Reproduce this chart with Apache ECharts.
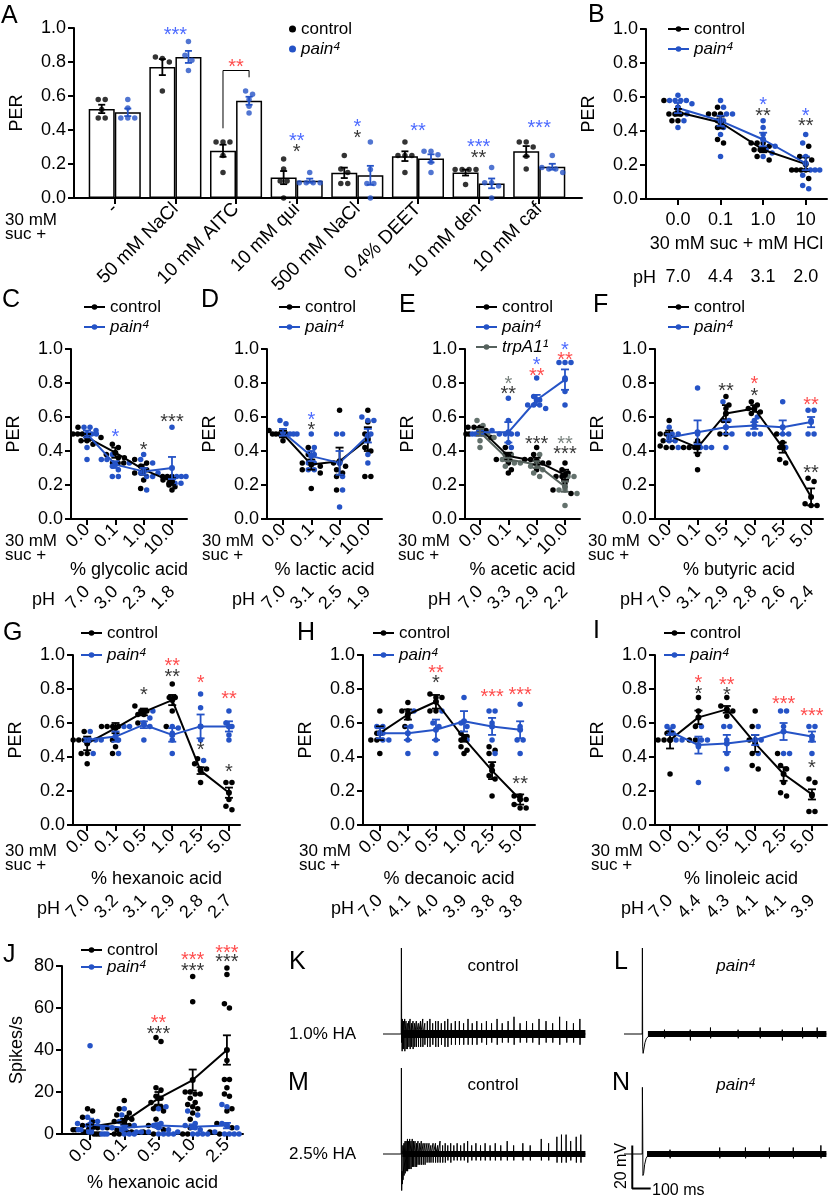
<!DOCTYPE html>
<html>
<head>
<meta charset="utf-8">
<script src="https://cdn.jsdelivr.net/npm/echarts@6/dist/echarts.min.js"></script>
<style>
  html, body { margin: 0; padding: 0; background: #fff; }
  #main { width: 835px; height: 1198px; }
</style>
</head>
<body>
<div id="main"></div>
<script>
// ---------- data ----------
// A: taste compounds (bars = mean of the dots)
var tasteLabels = ['-', '50 mM NaCl', '10 mM AITC', '10 mM qui', '500 mM NaCl', '0.4% DEET', '10 mM den', '10 mM caf']
var tasteCtrlDots = [[0.58, 0.58, 0.52, 0.47, 0.47], [0.82, 0.83, 0.80, 0.63], [0.33, 0.33, 0.33, 0.25, 0.15], [0.23, 0.17, 0.10, 0.10, 0.0],
  [0.25, 0.17, 0.15, 0.085, 0.085], [0.33, 0.25, 0.25, 0.25, 0.15], [0.167, 0.167, 0.167, 0.167, 0.08], [0.33, 0.33, 0.30, 0.245, 0.17]]
var tastePainDots = [[0.58, 0.53, 0.47, 0.47, 0.47], [0.92, 0.84, 0.81, 0.75], [0.63, 0.61, 0.58, 0.54, 0.50], [0.15, 0.09, 0.09, 0.09, 0.09],
  [0.33, 0.167, 0.085, 0.085, 0.0], [0.275, 0.275, 0.255, 0.21, 0.15], [0.18, 0.09, 0.09, 0.07, 0.0], [0.25, 0.18, 0.17, 0.17, 0.15]]
var tasteStars = [[1, 0.985, '***', 'b'], [2, 0.80, '**', 'r'], [3, 0.36, '**', 'b'], [3, 0.30, '*', 'k'], [4, 0.445, '*', 'b'], [4, 0.38, '*', 'k'],
  [5, 0.42, '**', 'b'], [6, 0.325, '***', 'b'], [6, 0.26, '**', 'k'], [7, 0.44, '***', 'b']]

// B: HCl
var hclDose = ['0.0', '0.1', '1.0', '10']
var hclPH = ['7.0', '4.4', '3.1', '2.0']
var hclCtrlMean = [0.51, 0.45, 0.29, 0.205]
var hclCtrlSem = [0.02, 0.035, 0.015, 0.04]
var hclPainMean = [0.535, 0.46, 0.35, 0.21]
var hclPainSem = [0.03, 0.03, 0.04, 0.04]
var hclCtrlDots = [[0.58, 0.54, 0.5, 0.5, 0.5, 0.46, 0.46], [0.54, 0.5, 0.5, 0.5, 0.46, 0.42, 0.33, 0.35], [0.33, 0.31, 0.29, 0.29, 0.25, 0.23, 0.33, 0.33], [0.31, 0.25, 0.23, 0.17, 0.17, 0.17, 0.12, 0.17]]
var hclPainDots = [[0.58, 0.58, 0.58, 0.58, 0.61, 0.56, 0.46, 0.42, 0.5], [0.58, 0.54, 0.5, 0.5, 0.46, 0.38, 0.42, 0.25], [0.46, 0.42, 0.38, 0.31, 0.29, 0.25, 0.27], [0.38, 0.33, 0.25, 0.17, 0.17, 0.14, 0.08, 0.06, 0.17]]
var hclStars = [[2, 0.58, '*', 'b'], [2, 0.515, '**', 'k'], [3, 0.515, '*', 'b'], [3, 0.455, '**', 'k']]

// C: glycolic acid
var glyDose = ['0.0', '0.1', '1.0', '10.0']
var glyPH = ['7.0', '3.0', '2.3', '1.8']
var glyCtrlMean = [0.48, 0.39, 0.29, 0.22]
var glyCtrlSem = [0.02, 0.03, 0.03, 0.02]
var glyPainMean = [0.50, 0.32, 0.28, 0.30]
var glyPainSem = [0.02, 0.02, 0.02, 0.065]
var glyCtrlDots = [[0.54, 0.5, 0.5, 0.5, 0.46, 0.46, 0.44, 0.48], [0.44, 0.42, 0.38, 0.36, 0.36, 0.33, 0.33, 0.33], [0.35, 0.33, 0.31, 0.29, 0.27, 0.23, 0.18], [0.25, 0.25, 0.23, 0.21, 0.2, 0.19, 0.17, 0.25]]
var glyPainDots = [[0.54, 0.54, 0.52, 0.5, 0.5, 0.5, 0.42, 0.35], [0.38, 0.35, 0.33, 0.31, 0.29, 0.25, 0.25, 0.35], [0.38, 0.35, 0.33, 0.27, 0.25, 0.25, 0.17], [0.54, 0.25, 0.25, 0.27, 0.21, 0.21, 0.25]]
var glyStars = [[1, 0.51, '*', 'b'], [2, 0.435, '*', 'k'], [3, 0.60, '***', 'k']]

// D: lactic acid
var lacDose = ['0.0', '0.1', '1.0', '10.0']
var lacPH = ['7.0', '3.1', '2.5', '1.9']
var lacCtrlMean = [0.50, 0.32, 0.34, 0.47]
var lacCtrlSem = [0.02, 0.03, 0.08, 0.07]
var lacPainMean = [0.51, 0.37, 0.33, 0.49]
var lacPainSem = [0.02, 0.03, 0.07, 0.04]
var lacCtrlDots = [[0.5, 0.5, 0.5, 0.5, 0.46, 0.5, 0.52], [0.42, 0.33, 0.31, 0.29, 0.27, 0.18, 0.38], [0.64, 0.33, 0.31, 0.29, 0.27, 0.17, 0.25], [0.64, 0.57, 0.5, 0.42, 0.4, 0.25, 0.25]]
var lacPainDots = [[0.58, 0.56, 0.5, 0.5, 0.5], [0.5, 0.42, 0.38, 0.33, 0.33, 0.29, 0.29], [0.5, 0.5, 0.33, 0.25, 0.17, 0.07], [0.6, 0.58, 0.58, 0.5, 0.46, 0.38, 0.33]]
var lacStars = [[1, 0.61, '*', 'b'], [1, 0.55, '*', 'k']]

// E: acetic acid (three genotypes)
var aceDose = ['0.0', '0.1', '1.0', '10.0']
var acePH = ['7.0', '3.3', '2.9', '2.2']
var aceCtrlMean = [0.53, 0.37, 0.34, 0.26]
var aceCtrlSem = [0.01, 0.02, 0.02, 0.03]
var acePainMean = [0.51, 0.51, 0.70, 0.82]
var acePainSem = [0.01, 0.06, 0.03, 0.06]
var aceTrpMean = [0.51, 0.35, 0.32, 0.19]
var aceTrpSem = [0.02, 0.01, 0.02, 0.03]
var aceCtrlDots = [[0.54, 0.54, 0.54, 0.52, 0.5, 0.5, 0.48], [0.38, 0.35, 0.33, 0.29, 0.27, 0.42], [0.42, 0.38, 0.35, 0.33, 0.33, 0.29, 0.35], [0.33, 0.29, 0.27, 0.25, 0.21, 0.17, 0.15, 0.25]]
var acePainDots = [[0.5, 0.5, 0.5, 0.5, 0.5, 0.52], [0.71, 0.58, 0.5, 0.5, 0.45, 0.42, 0.5, 0.5], [0.83, 0.72, 0.67, 0.67, 0.67, 0.7, 0.65], [0.92, 0.92, 0.92, 0.75, 0.67, 0.83]]
var aceTrpDots = [[0.58, 0.55, 0.48, 0.46, 0.42, 0.5], [0.38, 0.33, 0.33, 0.35, 0.31], [0.38, 0.35, 0.31, 0.29, 0.27, 0.25], [0.25, 0.25, 0.17, 0.17, 0.15, 0.08]]
var aceStars = [[1, 0.82, '*', 'g'], [1, 0.76, '**', 'k'], [2, 0.93, '*', 'b'], [2, 0.87, '**', 'r'], [3, 1.02, '*', 'b'], [3, 0.96, '**', 'r'],
  [2, 0.47, '***', 'k'], [3, 0.47, '**', 'g'], [3, 0.41, '***', 'k']]

// F: butyric acid
var butDose = ['0.0', '0.1', '0.5', '1.0', '2.5', '5.0']
var butPH = ['7.0', '3.1', '2.9', '2.8', '2.6', '2.4']
var butCtrlMean = [0.49, 0.42, 0.62, 0.65, 0.42, 0.13]
var butCtrlSem = [0.03, 0.03, 0.05, 0.02, 0.03, 0.05]
var butPainMean = [0.48, 0.51, 0.54, 0.55, 0.54, 0.57]
var butPainSem = [0.02, 0.07, 0.04, 0.02, 0.04, 0.03]
var butCtrlDots = [[0.58, 0.5, 0.5, 0.46, 0.42, 0.42, 0.43], [0.46, 0.42, 0.42, 0.42, 0.38, 0.29], [0.72, 0.67, 0.65, 0.58, 0.5, 0.5], [0.69, 0.67, 0.65, 0.65, 0.63, 0.62], [0.5, 0.45, 0.42, 0.35, 0.33], [0.24, 0.22, 0.09, 0.08, 0.08]]
var butPainDots = [[0.54, 0.5, 0.5, 0.46, 0.42, 0.46], [0.77, 0.5, 0.42, 0.42, 0.42], [0.69, 0.58, 0.54, 0.5, 0.42], [0.58, 0.5, 0.5, 0.5, 0.6], [0.69, 0.5, 0.5, 0.42], [0.64, 0.64, 0.58, 0.5, 0.5]]
var butStars = [[2, 0.78, '**', 'k'], [3, 0.82, '*', 'r'], [3, 0.75, '*', 'k'], [5, 0.70, '**', 'r'], [5, 0.30, '**', 'k']]

// G: hexanoic acid
var hexDose = ['0.0', '0.1', '0.5', '1.0', '2.5', '5.0']
var hexPH = ['7.0', '3.2', '3.1', '2.9', '2.8', '2.7']
var hexCtrlMean = [0.48, 0.57, 0.665, 0.735, 0.32, 0.19]
var hexCtrlSem = [0.04, 0.03, 0.02, 0.03, 0.02, 0.03]
var hexPainMean = [0.50, 0.52, 0.59, 0.53, 0.58, 0.58]
var hexPainSem = [0.01, 0.03, 0.02, 0.04, 0.07, 0.03]
var hexCtrlDots = [[0.55, 0.5, 0.5, 0.5, 0.42, 0.42, 0.36], [0.58, 0.58, 0.58, 0.58, 0.5, 0.46, 0.42], [0.7, 0.67, 0.67, 0.65, 0.65, 0.6], [0.83, 0.75, 0.75, 0.67, 0.58], [0.39, 0.36, 0.33, 0.33, 0.25], [0.25, 0.25, 0.15, 0.09, 0.11]]
var hexPainDots = [[0.55, 0.5, 0.5, 0.5, 0.42], [0.58, 0.58, 0.54, 0.5, 0.42], [0.67, 0.63, 0.6, 0.58, 0.5], [0.58, 0.57, 0.54, 0.5, 0.42], [0.77, 0.69, 0.58, 0.5, 0.38], [0.67, 0.6, 0.58, 0.53, 0.5]]
var hexStars = [[2, 0.79, '*', 'k'], [3, 0.96, '**', 'r'], [3, 0.90, '**', 'k'], [4, 0.86, '*', 'r'], [4, 0.47, '*', 'k'], [5, 0.77, '**', 'r'], [5, 0.34, '*', 'k']]

// H: decanoic acid
var decDose = ['0.0', '0.1', '0.5', '1.0', '2.5', '5.0']
var decPH = ['7.0', '4.1', '4.0', '3.9', '3.8', '3.8']
var decCtrlMean = [0.54, 0.65, 0.725, 0.51, 0.32, 0.15]
var decCtrlSem = [0.04, 0.03, 0.04, 0.02, 0.05, 0.03]
var decPainMean = [0.54, 0.54, 0.56, 0.61, 0.58, 0.56]
var decPainSem = [0.03, 0.04, 0.06, 0.06, 0.05, 0.05]
var decCtrlDots = [[0.67, 0.54, 0.5, 0.5, 0.42], [0.72, 0.67, 0.67, 0.63, 0.58], [0.77, 0.75, 0.75, 0.67, 0.67], [0.54, 0.52, 0.5, 0.46, 0.44, 0.42], [0.46, 0.44, 0.42, 0.35, 0.29, 0.27, 0.17], [0.17, 0.17, 0.15, 0.12, 0.1, 0.1]]
var decPainDots = [[0.58, 0.58, 0.54, 0.5, 0.5], [0.67, 0.58, 0.5, 0.42], [0.67, 0.6, 0.58, 0.5, 0.42], [0.75, 0.6, 0.58, 0.5], [0.67, 0.67, 0.6, 0.5, 0.42], [0.71, 0.58, 0.5, 0.5, 0.42]]
var decStars = [[2, 0.92, '**', 'r'], [2, 0.86, '*', 'k'], [4, 0.78, '***', 'r'], [5, 0.79, '***', 'r'], [5, 0.27, '**', 'k']]

// I: linoleic acid
var linDose = ['0.0', '0.1', '0.5', '1.0', '2.5', '5.0']
var linPH = ['7.0', '4.4', '4.3', '4.1', '4.1', '3.9']
var linCtrlMean = [0.50, 0.633, 0.68, 0.48, 0.30, 0.18]
var linCtrlSem = [0.05, 0.04, 0.02, 0.05, 0.04, 0.03]
var linPainMean = [0.55, 0.47, 0.48, 0.50, 0.55, 0.52]
var linPainSem = [0.02, 0.05, 0.05, 0.03, 0.05, 0.03]
var linCtrlDots = [[0.54, 0.5, 0.5, 0.5, 0.3], [0.75, 0.67, 0.58, 0.5, 0.5], [0.75, 0.7, 0.68, 0.67, 0.64], [0.67, 0.58, 0.5, 0.42, 0.35, 0.33], [0.42, 0.35, 0.33, 0.25, 0.19, 0.17], [0.27, 0.25, 0.17, 0.08, 0.08]]
var linPainDots = [[0.58, 0.58, 0.54, 0.5, 0.5], [0.58, 0.5, 0.5, 0.46, 0.25], [0.58, 0.58, 0.42, 0.33, 0.5], [0.58, 0.5, 0.42, 0.5], [0.67, 0.67, 0.58, 0.42, 0.42], [0.58, 0.58, 0.5, 0.42]]
var linStars = [[1, 0.86, '*', 'r'], [1, 0.80, '*', 'k'], [2, 0.85, '**', 'r'], [2, 0.79, '*', 'k'], [4, 0.74, '***', 'r'], [5, 0.67, '***', 'r'], [5, 0.36, '*', 'k']]

// J: spikes/s to hexanoic acid
var spkDose = ['0.0', '0.1', '0.5', '1.0', '2.5']
var spkCtrlMean = [3.5, 5.9, 17, 25.7, 40]
var spkCtrlSem = [1.0, 1.3, 3.0, 5.0, 7.0]
var spkPainMean = [4.5, 3.0, 4.0, 3.5, 4.0]
var spkPainSem = [2.8, 1.0, 1.2, 1.1, 1.3]
var spkCtrlDots = [[12, 11, 8, 6, 4, 3, 3, 2, 2, 1, 1, 0, 0, 0], [16, 12, 10, 9, 8, 7, 6, 5, 4, 3, 2, 1, 1, 0, 0],
  [46, 44, 22, 21, 18, 17, 15, 13, 13, 12, 11, 7, 4, 2, 1, 0], [75, 63, 20, 20, 19, 19, 17, 15, 14, 13, 12, 10, 7, 3, 0, 0],
  [79, 76, 62, 60, 35, 26, 26, 22, 19, 18, 12, 11, 5, 3, 1, 0]]
var spkPainDots = [[42, 8, 6, 5, 4, 3, 2, 2, 1, 1, 0, 0, 0], [12, 9, 6, 4, 3, 2, 1, 1, 0, 0, 0], [13, 12, 5, 4, 3, 2, 1, 0, 0, 0, 0],
  [11, 9, 5, 4, 3, 2, 1, 0, 0, 0, 0], [14, 13, 5, 4, 3, 1, 0, 0, 0, 0, 0]]
var spkStars = [[2, 55, '**', 'r'], [2, 50, '***', 'k'], [3, 85, '***', 'r'], [3, 80, '***', 'k'], [4, 88.5, '***', 'r'], [4, 84, '***', 'k']]

// K-N: recordings. head = stimulus artefact [ms, mV]; spikes = [ms, up mV, down mV]
var kHead = [[-100, 0], [-1, 0], [0, 40], [1.5, -4], [3, 5], [4, -8], [6, 2], [8, -3]]
var kSpikes = [[5, 7, -7], [11, 6, -7], [18, 7, -8], [25, 6, -7], [32, 5, -7], [40, 6, -6], [47, 7, -7], [55, 5, -6], [63, 6, -7], [72, 5, -6],
  [81, 6, -6], [92, 5, -6], [104, 6, -6], [116, 7, -6], [127, 5, -5], [141, 6, -6], [155, 7, -6], [170, 5, -5], [186, 6, -6], [200, 6, -6],
  [217, 5, -5], [236, 6, -6], [252, 7, -6], [271, 5, -5], [293, 6, -5], [315, 6, -5], [338, 5, -5], [362, 7, -5], [385, 5, -5], [410, 6, -5],
  [436, 5, -4], [462, 6, -5], [490, 5, -4], [520, 7, -5], [548, 5, -4], [580, 6, -4], [612, 8, -5], [645, 5, -4], [680, 6, -4], [713, 5, -4],
  [748, 7, -5], [786, 6, -4], [822, 5, -4], [860, 8, -5], [898, 6, -4], [935, 5, -4], [970, 7, -5]]
var lHead = [[-100, 0], [-1, 0], [0, 40], [1.5, -6], [4, -9], [8, -7], [14, -4], [22, -2], [35, -1], [55, 0]]
var lSpikes = [[120, 2, -2], [260, 2, -3], [370, 3, -2], [520, 2, -2], [640, 3, -2], [760, 2, -3], [870, 3, -2], [950, 3, -2]]
var mHead = [[-100, 0], [-1, 0], [0, 40], [1.5, -17], [3, -8], [5, -14], [9, -9], [14, -6], [22, -3], [35, -1]]
var mSpikes = [[8, 4, -12], [14, 5, -10], [20, 6, -9], [26, 6, -8], [33, 7, -8], [39, 6, -7], [45, 7, -7], [52, 6, -7], [59, 7, -6],
  [66, 6, -6], [74, 6, -6], [82, 5, -6], [90, 6, -5], [99, 5, -5], [108, 6, -5], [118, 5, -5], [128, 5, -5], [139, 5, -4], [150, 5, -4],
  [160, 4, -4], [172, 5, -4], [185, 5, -4], [197, 4, -4], [210, 6, -4], [224, 4, -4], [238, 5, -4], [252, 4, -3], [268, 5, -4], [285, 4, -3],
  [303, 5, -3], [322, 4, -3], [341, 5, -3], [360, 6, -4], [382, 4, -3], [405, 5, -3], [430, 4, -3], [455, 5, -3], [482, 4, -3], [510, 5, -3],
  [540, 4, -3], [575, 6, -3], [610, 4, -3], [660, 5, -3], [700, 4, -3], [760, 7, -3], [800, 5, -3], [845, 8, -4], [870, 9, -4], [895, 9, -4],
  [920, 6, -3], [950, 8, -4], [975, 9, -4]]
var nHead = [[-100, 0], [-1, 0], [0, 31], [1.5, 14], [3, -10], [7, -9], [12, -5], [20, -2], [35, 0]]
var nSpikes = [[150, 2, -2], [420, 3, -2], [560, 3, -2], [690, 3, -2], [820, 3, -2], [970, 4, -2]]

// ---------- build ----------
var FONT = '"Liberation Sans", Arial, Helvetica, sans-serif'
var BLACK = '#000'
var BLUE = '#2553c6'
var GRAY = '#56625d'
var starColor = { k: '#000', b: '#1f45ff', r: '#ff1f1f', g: '#56625d' }

var grids = []
var xAxes = []
var yAxes = []
var series = []
var legends = []
var graphics = []

function legendText (name) {
  if (name === 'pain4') return '{i|pain⁴}'
  if (name === 'trpA11') return '{i|trpA1¹}'
  return name
}

function addLegend (cfg, names) {
  legends.push({
    orient: 'vertical',
    left: cfg.left,
    top: cfg.top,
    padding: 0,
    itemGap: cfg.gap,
    itemWidth: cfg.iw || 21,
    itemHeight: cfg.ih || 7,
    selectedMode: false,
    data: names,
    formatter: legendText,
    textStyle: { fontSize: 17, color: '#000', lineHeight: 17, rich: { i: { fontSize: 17, fontStyle: 'italic', color: '#000' } } }
  })
}

// points with (almost) the same value are put side by side, like the figure does
function swarm (cols, pxX, pxY, step, maxSpread, nSeries) {
  var out = []
  for (var s = 0; s < nSeries; s++) out.push([])
  cols.forEach(function (col) {
    var pts = col.pts.slice().sort(function (a, b) { return b.v - a.v })
    var rows = []
    pts.forEach(function (p) {
      var r = rows[rows.length - 1]
      if (r && (r.v0 - p.v) * pxY < step * 0.85) r.items.push(p)
      else rows.push({ v0: p.v, items: [p] })
    })
    rows.forEach(function (r) {
      var n = r.items.length
      var st = n > 1 ? Math.min(step, maxSpread / (n - 1)) : step
      r.items.forEach(function (p, k) {
        var off = (k - (n - 1) / 2) * st
        out[p.s].push([col.center + off / pxX, p.v])
      })
    })
  })
  return out
}

function errBar (color, half) {
  return function (params, api) {
    var x = api.value(0)
    var m = api.value(1)
    var e = api.value(2)
    var hi = api.coord([x, m + e])
    var lo = api.coord([x, m - e])
    var st = { stroke: color, lineWidth: 1.8 }
    return {
      type: 'group',
      children: [
        { type: 'line', shape: { x1: hi[0], y1: hi[1], x2: lo[0], y2: lo[1] }, style: st },
        { type: 'line', shape: { x1: hi[0] - half, y1: hi[1], x2: hi[0] + half, y2: hi[1] }, style: st },
        { type: 'line', shape: { x1: lo[0] - half, y1: lo[1], x2: lo[0] + half, y2: lo[1] }, style: st }
      ]
    }
  }
}

function starSeries (gi, xi, yi, stars) {
  series.push({
    type: 'scatter',
    name: 'stars ' + gi,
    xAxisIndex: xi,
    yAxisIndex: yi,
    symbolSize: 1,
    clip: false,
    silent: true,
    itemStyle: { color: 'rgba(0,0,0,0)' },
    label: { show: true, position: 'inside', fontSize: 20, offset: [0, 5], formatter: function (q) { return q.data.t } },
    data: stars.map(function (s) { return { value: [s[0], s[1]], t: s[2], label: { color: starColor[s[3]] } } }),
    z: 6
  })
}

function axisLine () {
  return { show: true, onZero: false, lineStyle: { color: '#000', width: 2 } }
}

function linePanel (p) {
  var gi = grids.length
  grids.push({ left: p.left, top: p.top, width: p.width, height: p.height })
  var idx = p.cats.map(function (c, i) { return i })
  var xi = xAxes.length
  xAxes.push({
    gridIndex: gi, type: 'value', min: p.xmin, max: p.xmax,
    axisLine: axisLine(),
    axisTick: { show: true, customValues: idx, length: 6, lineStyle: { color: '#000', width: 2 } },
    axisLabel: { customValues: idx, rotate: p.rotate, margin: p.labelMargin, fontSize: 18, color: '#000',
      formatter: function (v) { return p.cats[Math.round(v)] } },
    splitLine: { show: false },
    name: p.xName, nameLocation: 'middle', nameGap: p.nameGap,
    nameTextStyle: { fontSize: 18, color: '#000' }
  })
  if (p.ph) {
    xAxes.push({
      gridIndex: gi, type: 'value', min: p.xmin, max: p.xmax, position: 'bottom', offset: p.phOffset,
      axisLine: { show: false, onZero: false }, axisTick: { show: false }, splitLine: { show: false },
      axisLabel: { customValues: idx, rotate: p.phRotate, margin: 8, fontSize: 18, color: '#000',
        formatter: function (v) { return p.ph[Math.round(v)] } }
    })
  }
  var yi = yAxes.length
  yAxes.push({
    gridIndex: gi, type: 'value', min: 0, max: p.ymax || 1, interval: p.yInterval || 0.2,
    axisLine: axisLine(),
    axisTick: { show: true, length: 6, lineStyle: { color: '#000', width: 2 } },
    axisLabel: { fontSize: 18, color: '#000', margin: 8,
      formatter: function (v) { return p.ymax ? String(v) : v.toFixed(1) } },
    splitLine: { show: false },
    name: p.yName || 'PER', nameLocation: 'middle', nameGap: p.yNameGap || 48,
    nameTextStyle: { fontSize: 18, color: '#000' }
  })

  var pxX = p.width / (p.xmax - p.xmin)
  var pxY = p.height / (p.ymax || 1)
  var cols = p.cats.map(function (c, i) {
    var pts = []
    p.series.forEach(function (s, si) { s.dots[i].forEach(function (v) { pts.push({ v: v, s: si }) }) })
    return { center: i, pts: pts }
  })
  var placed = swarm(cols, pxX, pxY, p.step || 6, p.maxSpread || 28, p.series.length)
  p.series.forEach(function (s, si) {
    series.push({
      type: 'scatter', name: s.name + ' dots ' + gi, xAxisIndex: xi, yAxisIndex: yi,
      data: placed[si], symbolSize: 5.5, itemStyle: { color: s.dotColor, opacity: 1 }, silent: true, z: 2
    })
  })
  p.series.forEach(function (s) {
    series.push({
      type: 'line', name: s.name, xAxisIndex: xi, yAxisIndex: yi,
      data: s.mean.map(function (m, i) { return [i, m] }),
      lineStyle: { color: s.color, width: 2 }, itemStyle: { color: s.color },
      symbol: 'circle', symbolSize: 6, showSymbol: true, silent: true, z: 3
    })
    series.push({
      type: 'custom', name: s.name + ' sem ' + gi, xAxisIndex: xi, yAxisIndex: yi,
      data: s.mean.map(function (m, i) { return [i, m, s.sem[i]] }),
      renderItem: errBar(s.color, 4), silent: true, z: 4
    })
  })
  starSeries(gi, xi, yi, p.stars)
  addLegend(p.legend, p.series.map(function (s) { return s.name }))
}

function ctrl (mean, sem, dots) { return { name: 'control', color: BLACK, dotColor: BLACK, mean: mean, sem: sem, dots: dots } }
function pain (mean, sem, dots) { return { name: 'pain4', color: BLUE, dotColor: BLUE, mean: mean, sem: sem, dots: dots } }

// B first so that the legends pick up its line icons
linePanel({
  left: 646, top: 29, width: 181, height: 170, xmin: -0.75, xmax: 3.5,
  cats: hclDose, rotate: 0, labelMargin: 12, xName: '30 mM suc + mM HCl', nameGap: 36,
  ph: hclPH, phRotate: 0, phOffset: 61,
  series: [ctrl(hclCtrlMean, hclCtrlSem, hclCtrlDots), pain(hclPainMean, hclPainSem, hclPainDots)],
  stars: hclStars, legend: { left: 667, top: 20.5, gap: 3 }
})

// A: bars
;(function () {
  var gi = grids.length
  grids.push({ left: 71, top: 28, width: 511, height: 170 })
  var idx = tasteLabels.map(function (c, i) { return i })
  var xi = xAxes.length
  xAxes.push({
    gridIndex: gi, type: 'value', min: -0.672, max: 7.705,
    axisLine: axisLine(),
    axisTick: { show: true, customValues: idx, length: 6, lineStyle: { color: '#000', width: 2 } },
    axisLabel: { customValues: idx, rotate: 45, margin: 8, fontSize: 19, color: '#000',
      formatter: function (v) { return tasteLabels[Math.round(v)] } },
    splitLine: { show: false }
  })
  var yi = yAxes.length
  yAxes.push({
    gridIndex: gi, type: 'value', min: 0, max: 1, interval: 0.2,
    axisLine: axisLine(),
    axisTick: { show: true, length: 6, lineStyle: { color: '#000', width: 2 } },
    axisLabel: { fontSize: 18, color: '#000', margin: 8, formatter: function (v) { return v.toFixed(1) } },
    splitLine: { show: false },
    name: 'PER', nameLocation: 'middle', nameGap: 48, nameTextStyle: { fontSize: 18, color: '#000' }
  })
  var shift = 0.215
  function stats (arr) {
    var m = arr.reduce(function (a, b) { return a + b }, 0) / arr.length
    var sd = Math.sqrt(arr.reduce(function (a, b) { return a + (b - m) * (b - m) }, 0) / (arr.length - 1))
    return [m, sd / Math.sqrt(arr.length)]
  }
  var bars = []
  var errC = []
  var errP = []
  tasteLabels.forEach(function (l, i) {
    var c = stats(tasteCtrlDots[i])
    var p = stats(tastePainDots[i])
    bars.push([i - shift, c[0]], [i + shift, p[0]])
    errC.push([i - shift, c[0], c[1]])
    errP.push([i + shift, p[0], p[1]])
  })
  series.push({
    type: 'bar', name: 'taste bars', xAxisIndex: xi, yAxisIndex: yi, data: bars, barWidth: 26,
    itemStyle: { color: '#fff', borderColor: '#000', borderWidth: 1.5 }, silent: true, z: 1
  })
  var pxX = 511 / (7.705 + 0.672)
  var cols = []
  tasteLabels.forEach(function (l, i) {
    cols.push({ center: i - shift, pts: tasteCtrlDots[i].map(function (v) { return { v: v, s: 0 } }) })
    cols.push({ center: i + shift, pts: tastePainDots[i].map(function (v) { return { v: v, s: 1 } }) })
  })
  var placed = swarm(cols, pxX, 170, 7, 22, 2)
  series.push({ type: 'scatter', name: 'taste ctrl dots', xAxisIndex: xi, yAxisIndex: yi, data: placed[0], symbolSize: 5.5, itemStyle: { color: BLACK }, silent: true, z: 2 })
  series.push({ type: 'scatter', name: 'taste pain dots', xAxisIndex: xi, yAxisIndex: yi, data: placed[1], symbolSize: 5.5, itemStyle: { color: BLUE }, silent: true, z: 2 })
  series.push({ type: 'custom', name: 'taste ctrl sem', xAxisIndex: xi, yAxisIndex: yi, data: errC, renderItem: errBar(BLACK, 3.5), silent: true, z: 4 })
  series.push({ type: 'custom', name: 'taste pain sem', xAxisIndex: xi, yAxisIndex: yi, data: errP, renderItem: errBar(BLUE, 3.5), silent: true, z: 4 })
  // significance bracket between the two AITC bars
  series.push({
    type: 'line', name: 'aitc bracket', xAxisIndex: xi, yAxisIndex: yi, symbol: 'none', silent: true,
    data: [[2 - shift, 0.41], [2 - shift, 0.75], [2 + shift, 0.75], [2 + shift, 0.71]],
    lineStyle: { color: '#000', width: 1 }, z: 5
  })
  starSeries(gi, xi, yi, tasteStars)
  addLegend({ left: 289, top: 20.5, gap: 3, iw: 7, ih: 7 }, [{ name: 'control', icon: 'circle' }, { name: 'pain4', icon: 'circle' }])
})()

linePanel({
  left: 71, top: 349, width: 116, height: 170, xmin: -0.565, xmax: 3.53,
  cats: glyDose, rotate: 45, labelMargin: 8, xName: '% glycolic acid', nameGap: 42,
  ph: glyPH, phRotate: 45, phOffset: 62,
  series: [ctrl(glyCtrlMean, glyCtrlSem, glyCtrlDots), pain(glyPainMean, glyPainSem, glyPainDots)],
  stars: glyStars, legend: { left: 83, top: 298.5, gap: 3 }
})
linePanel({
  left: 267, top: 349, width: 115, height: 170, xmin: -0.565, xmax: 3.5,
  cats: lacDose, rotate: 45, labelMargin: 8, xName: '% lactic acid', nameGap: 42,
  ph: lacPH, phRotate: 45, phOffset: 62,
  series: [ctrl(lacCtrlMean, lacCtrlSem, lacCtrlDots), pain(lacPainMean, lacPainSem, lacPainDots)],
  stars: lacStars, legend: { left: 278, top: 298.5, gap: 3 }
})
linePanel({
  left: 465, top: 349, width: 115, height: 170, xmin: -0.53, xmax: 3.53,
  cats: aceDose, rotate: 45, labelMargin: 8, xName: '% acetic acid', nameGap: 42,
  ph: acePH, phRotate: 45, phOffset: 62,
  series: [ctrl(aceCtrlMean, aceCtrlSem, aceCtrlDots), pain(acePainMean, acePainSem, acePainDots),
    { name: 'trpA11', color: GRAY, dotColor: '#63716c', mean: aceTrpMean, sem: aceTrpSem, dots: aceTrpDots }],
  stars: aceStars, legend: { left: 475, top: 298.5, gap: 3 }
})
linePanel({
  left: 655, top: 349, width: 168, height: 170, xmin: -0.5, xmax: 5.42,
  cats: butDose, rotate: 45, labelMargin: 8, xName: '% butyric acid', nameGap: 42,
  ph: butPH, phRotate: 45, phOffset: 62,
  series: [ctrl(butCtrlMean, butCtrlSem, butCtrlDots), pain(butPainMean, butPainSem, butPainDots)],
  stars: butStars, legend: { left: 667, top: 298.5, gap: 3 }
})
linePanel({
  left: 73, top: 655, width: 167, height: 170, xmin: -0.5, xmax: 5.39,
  cats: hexDose, rotate: 45, labelMargin: 8, xName: '% hexanoic acid', nameGap: 45,
  ph: hexPH, phRotate: 45, phOffset: 65,
  series: [ctrl(hexCtrlMean, hexCtrlSem, hexCtrlDots), pain(hexPainMean, hexPainSem, hexPainDots)],
  stars: hexStars, legend: { left: 80, top: 624.5, gap: 5 }
})
linePanel({
  left: 363, top: 655, width: 172, height: 170, xmin: -0.6, xmax: 5.53,
  cats: decDose, rotate: 45, labelMargin: 8, xName: '% decanoic acid', nameGap: 45,
  ph: decPH, phRotate: 45, phOffset: 65,
  series: [ctrl(decCtrlMean, decCtrlSem, decCtrlDots), pain(decPainMean, decPainSem, decPainDots)],
  stars: decStars, legend: { left: 372, top: 624.5, gap: 5 }
})
linePanel({
  left: 655, top: 655, width: 172, height: 170, xmin: -0.53, xmax: 5.53,
  cats: linDose, rotate: 45, labelMargin: 8, xName: '% linoleic acid', nameGap: 45,
  ph: linPH, phRotate: 45, phOffset: 65,
  series: [ctrl(linCtrlMean, linCtrlSem, linCtrlDots), pain(linPainMean, linPainSem, linPainDots)],
  stars: linStars, legend: { left: 663, top: 624.5, gap: 5 }
})
linePanel({
  left: 62, top: 966, width: 181, height: 168, xmin: -0.82, xmax: 4.47, ymax: 80, yInterval: 20,
  yName: 'Spikes/s', yNameGap: 36, step: 5, maxSpread: 34,
  cats: spkDose, rotate: 45, labelMargin: 8, xName: '% hexanoic acid', nameGap: 40,
  series: [ctrl(spkCtrlMean, spkCtrlSem, spkCtrlDots), pain(spkPainMean, spkPainSem, spkPainDots)],
  stars: spkStars, legend: { left: 80, top: 941.5, gap: 0 }
})

// K-N recordings: 2.15 px per mV, 0.184 px per ms; y range -20..45 mV
function tracePanel (left, baseline, head, spikes, bandStart, bandWidth) {
  var gi = grids.length
  grids.push({ left: left, top: baseline - 45 * 2.15, width: 202.4, height: 65 * 2.15 })
  var xi = xAxes.length
  xAxes.push({ gridIndex: gi, type: 'value', min: -100, max: 1000, show: false })
  var yi = yAxes.length
  yAxes.push({ gridIndex: gi, type: 'value', min: -20, max: 45, show: false })
  var pts = head.slice()
  spikes.forEach(function (s) {
    pts.push([s[0] - 0.8, 0], [s[0], s[1]], [s[0] + 0.8, s[2]], [s[0] + 1.6, 0])
  })
  pts.push([1000, 0])
  series.push({ type: 'line', name: 'band ' + gi, xAxisIndex: xi, yAxisIndex: yi, symbol: 'none', silent: true,
    data: [[bandStart, 0], [1000, 0]], lineStyle: { color: '#000', width: bandWidth }, z: 2 })
  series.push({ type: 'line', name: 'trace ' + gi, xAxisIndex: xi, yAxisIndex: yi, symbol: 'none', silent: true,
    data: pts, lineStyle: { color: '#000', width: 1 }, z: 3 })
  return { xi: xi, yi: yi }
}
tracePanel(383, 1034, kHead, kSpikes, 6, 8)
tracePanel(624, 1034, lHead, lSpikes, 30, 6)
tracePanel(383, 1154, mHead, mSpikes, 6, 6)
var nAx = tracePanel(624, 1154, nHead, nSpikes, 25, 6)
// scale bar: 20 mV, 100 ms, placed left of the N trace
var barMv = 20
var barMs = 100
series.push({ type: 'line', name: 'scale bar', xAxisIndex: nAx.xi, yAxisIndex: nAx.yi, symbol: 'none', silent: true,
  data: [[-55, 4], [-55, 4 - barMv], [-55 + barMs, 4 - barMv]], lineStyle: { color: '#000', width: 2 }, z: 3 })

// ---------- text ----------
function txt (left, top, text, size, extra) {
  var st = { text: text, font: size + 'px ' + FONT, fill: '#000' }
  if (extra && extra.lineHeight) st.lineHeight = extra.lineHeight
  st.textVerticalAlign = 'top'
  graphics.push({ type: 'text', left: left, top: top, style: st, silent: true })
}
var letters = [['A', 1, 4], ['B', 588, 3], ['C', 2, 288], ['D', 201, 288], ['E', 399, 293], ['F', 593, 293], ['G', 3, 621], ['H', 297, 621],
  ['I', 593, 619], ['J', 3, 943], ['K', 289, 950], ['L', 614, 950], ['M', 288, 1071], ['N', 612, 1071]]
letters.forEach(function (l) { txt(l[1], l[2], l[0], 25) })

var sucPos = [[5, 212], [5, 533], [202, 533], [398, 533], [588, 533], [5, 843], [299, 843], [591, 843]]
sucPos.forEach(function (p) { txt(p[0], p[1], '30 mM\nsuc +', 17, { lineHeight: 14 }) })
var phPos = [[633, 269], [32, 591], [232, 591], [428, 591], [620, 591], [37, 900], [331, 900], [621, 900]]
phPos.forEach(function (p) { txt(p[0], p[1], 'pH', 18) })

txt(289, 1026, '1.0% HA', 17)
txt(289, 1146, '2.5% HA', 17)
function ctext (x, y, text, font) {
  graphics.push({ type: 'text', x: x, y: y, style: { text: text, font: font, fill: '#000', textAlign: 'center', textVerticalAlign: 'middle' }, silent: true })
}
ctext(493, 966, 'control', '17px ' + FONT)
ctext(736, 966, 'pain⁴', 'italic 17px ' + FONT)
ctext(493, 1085, 'control', '17px ' + FONT)
ctext(736, 1085, 'pain⁴', 'italic 17px ' + FONT)
graphics.push({ type: 'text', x: 622, y: 1166, rotation: Math.PI / 2, style: { text: '20 mV', font: '16px ' + FONT, fill: '#000', textAlign: 'center', textVerticalAlign: 'middle' }, silent: true })
graphics.push({ type: 'text', x: 652, y: 1191, style: { text: '100 ms', font: '16px ' + FONT, fill: '#000', textAlign: 'left', textVerticalAlign: 'middle' }, silent: true })

var chart = echarts.init(document.getElementById('main'), null, { renderer: 'canvas' })
chart.setOption({
  animation: false,
  backgroundColor: '#fff',
  textStyle: { fontFamily: FONT },
  grid: grids,
  xAxis: xAxes,
  yAxis: yAxes,
  legend: legends,
  series: series,
  graphic: { elements: graphics }
})
</script>
</body>
</html>
